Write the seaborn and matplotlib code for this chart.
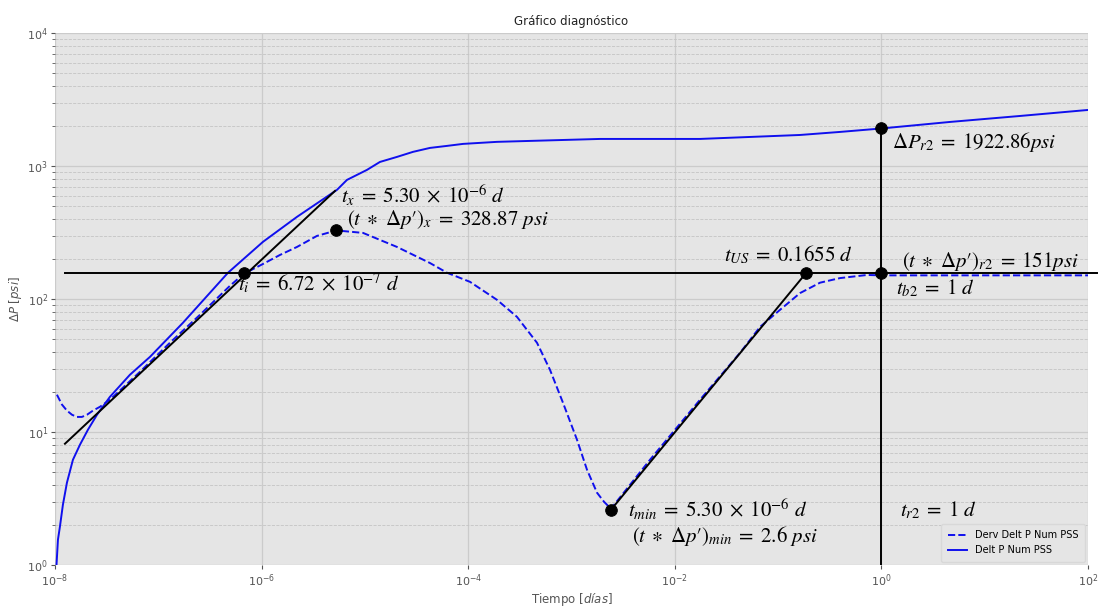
import numpy as np
import pandas as pd
import matplotlib
matplotlib.use("Agg")
import matplotlib.pyplot as plt
import seaborn as sns
from matplotlib.ticker import NullLocator, LogLocator, NullFormatter

# ---------------- data ----------------
t_dp = [1.035e-8, 1.069e-8, 1.117e-8, 1.194e-8, 1.306e-8, 1.493e-8, 1.746e-8, 2.084e-8,
        2.553e-8, 3.404e-8, 5.321e-8, 8.318e-8, 1.734e-7, 4.732e-7, 1.033e-6, 2.203e-6,
        5.370e-6, 6.71e-6, 1.047e-5, 1.40e-5, 2.046e-5, 2.92e-5, 4.266e-5, 6.24e-5,
        8.913e-5, 1.901e-4, 3.963e-4, 1.888e-3, 1.754e-2, 0.1629, 0.3972, 1.0, 4.613,
        21.98, 100.0]
dp = [1.0, 1.55, 1.94, 2.84, 4.16, 6.19, 8.03, 10.4, 13.5, 18.4, 27.0, 36.8, 66.4, 158,
      270, 416, 664, 789, 938, 1077, 1175, 1282, 1373, 1422, 1472, 1525, 1550, 1604, 1604,
      1718, 1811, 1922.86, 2153, 2388, 2650]

t_der = [1.045e-8, 1.169e-8, 1.306e-8, 1.462e-8, 1.633e-8, 1.824e-8, 2.042e-8, 2.333e-8,
         2.729e-8, 3.404e-8, 6.653e-8, 1.297e-7, 2.535e-7, 4.943e-7, 6.72e-7, 1.033e-6,
         1.507e-6, 2.203e-6, 3.436e-6, 5.30e-6, 9.594e-6, 2.046e-5, 4.266e-5, 6.237e-5,
         1.040e-4, 1.901e-4, 2.965e-4, 4.634e-4, 6.194e-4, 8.279e-4, 1.130e-3, 1.413e-3,
         1.766e-3, 2.065e-3, 2.410e-3, 5.754e-3, 1.754e-2, 4.276e-2, 6.683e-2, 0.1042,
         0.1629, 0.2547, 0.3972, 0.7261, 1.0, 4.613, 100.0]
der = [19.1, 16.1, 14.5, 13.5, 13.0, 13.0, 13.5, 14.5, 15.5, 17.5, 28.4, 47.0, 76.3, 126,
       155, 184, 215, 247, 299, 328.87, 315, 247, 187, 158, 135, 98.8, 73.6, 47.0, 29.4,
       16.6, 8.77, 5.21, 3.50, 2.99, 2.65, 6.19, 17.5, 39.4, 61.8, 83.0, 111, 133, 144,
       152, 151, 151, 151]

# key points
pt_t = [6.72e-7, 5.30e-6, 2.41e-3, 0.185, 1.0, 1.0]
pt_p = [156, 328.87, 2.6, 156, 156, 1922.86]

# straight reference lines
early_t = [1.25e-8, 5.14e-6]
early_p = [8.17, 652]
radial_t = [2.41e-3, 0.185]
radial_p = [2.6, 156]
h_t = [1.25e-8, 123.0]
h_p = [156, 156]
v_t = [1.0, 1.0]
v_p = [1.0, 1922.86]

x_ticks = [1e-8, 1e-6, 1e-4, 1e-2, 1e0, 1e2]

S = r"\;"
labels = [
    (rf"$t_x{S}={S}5.30{S}\times{S}10^{{-6}}\ d$", 5.87e-6, 530),
    (rf"$(t{S}\ast{S}\Delta p′)_x{S}={S}328.87\ psi$", 6.70e-6, 362),
    (rf"$t_i{S}={S}6.72{S}\times{S}10^{{-7}}\ d$", 5.92e-7, 114),
    (rf"$t_{{US}}{S}={S}0.1655\ d$", 2.99e-2, 192),
    (rf"$(t{S}\ast{S}\Delta p′)_{{r2}}{S}={S}151psi$", 1.57, 176),
    (rf"$t_{{b2}}{S}={S}1\ d$", 1.38, 108),
    (rf"$\Delta P_{{r2}}{S}={S}1922.86psi$", 1.26, 1365),
    (rf"$t_{{min}}{S}={S}5.30{S}\times{S}10^{{-6}}\ d$", 3.52e-3, 2.27),
    (rf"$(t{S}\ast{S}\Delta p′)_{{min}}{S}={S}2.6\ psi$", 3.83e-3, 1.50),
    (rf"$t_{{r2}}{S}={S}1\ d$", 1.51, 2.32),
]

# ---------------- style ----------------
sns.set_style({
    "axes.facecolor": "#E5E5E5",
    "axes.edgecolor": "#E5E5E5",
    "axes.grid": True,
    "grid.color": "#CBCBCB",
    "xtick.bottom": True,
    "ytick.left": True,
    "xtick.color": "#555555",
    "ytick.color": "#555555",
})
plt.rcParams["font.family"] = ["DejaVu Sans"]

fig = plt.figure(figsize=(10.99, 6.13), dpi=100)
ax = fig.add_axes([0.050, 0.0783, 0.940, 0.8674])
ax.set_xscale("log")
ax.set_yscale("log")

df_der = pd.DataFrame({"t": t_der, "v": der})
df_dp = pd.DataFrame({"t": t_dp, "v": dp})

sns.lineplot(data=df_der, x="t", y="v", ax=ax, color="#1010EE", linestyle="--",
             linewidth=1.4, estimator=None, sort=False, label="Derv Delt P Num PSS")
sns.lineplot(data=df_dp, x="t", y="v", ax=ax, color="#1010EE", linestyle="-",
             linewidth=1.4, estimator=None, sort=False, label="Delt P Num PSS")
h_der, h_dp = ax.get_lines()[0], ax.get_lines()[1]

for xs, ys, clip in [(early_t, early_p, True), (radial_t, radial_p, True),
                     (h_t, h_p, False), (v_t, v_p, True)]:
    sns.lineplot(x=xs, y=ys, ax=ax, color="black", linewidth=1.4,
                 estimator=None, sort=False, clip_on=clip, legend=False)

sns.scatterplot(x=pt_t, y=pt_p, ax=ax, color="black", s=70, edgecolor="black",
                zorder=5, legend=False)

for txt, tx, ty in labels:
    ax.text(tx, ty, txt, fontsize=15, ha="left", va="baseline",
            math_fontfamily="stix", color="black")

ax.set_xlim(1e-8, 1e2)
ax.set_ylim(1e0, 1e4)
ax.set_xticks(x_ticks)
ax.xaxis.set_minor_locator(NullLocator())
ax.yaxis.set_major_locator(LogLocator(base=10, numticks=10))
ax.yaxis.set_minor_locator(LogLocator(base=10, subs=np.arange(2, 10), numticks=20))
ax.yaxis.set_minor_formatter(NullFormatter())

ax.grid(True, which="major", color="#CBCBCB", linestyle="-", linewidth=0.9)
ax.grid(True, which="minor", axis="y", color="#C4C4C4", linestyle="--", linewidth=0.6)
ax.grid(False, which="minor", axis="x")
ax.tick_params(axis="both", which="major", labelsize=8, length=3, width=0.8,
               colors="#555555", pad=2)
ax.tick_params(axis="y", which="minor", length=2, width=0.6, colors="#555555")
for s in ax.spines.values():
    s.set_visible(False)

ax.set_title("Gráfico diagnóstico", fontsize=8.5, color="#222222", pad=6)
ax.set_xlabel(r"Tiempo $[días]$", fontsize=8.5, color="#555555", labelpad=2)
ax.set_ylabel(r"$\Delta P\ [psi]$", fontsize=8.5, color="#555555", labelpad=2)

ax.legend(handles=[h_der, h_dp], labels=["Derv Delt P Num PSS", "Delt P Num PSS"],
          loc="lower right", fontsize=7, facecolor="#E5E5E5", edgecolor="#D8D8D8",
          framealpha=1.0, borderaxespad=0.3, handlelength=2.0, borderpad=0.7)

fig.savefig("out.png", dpi=100)
